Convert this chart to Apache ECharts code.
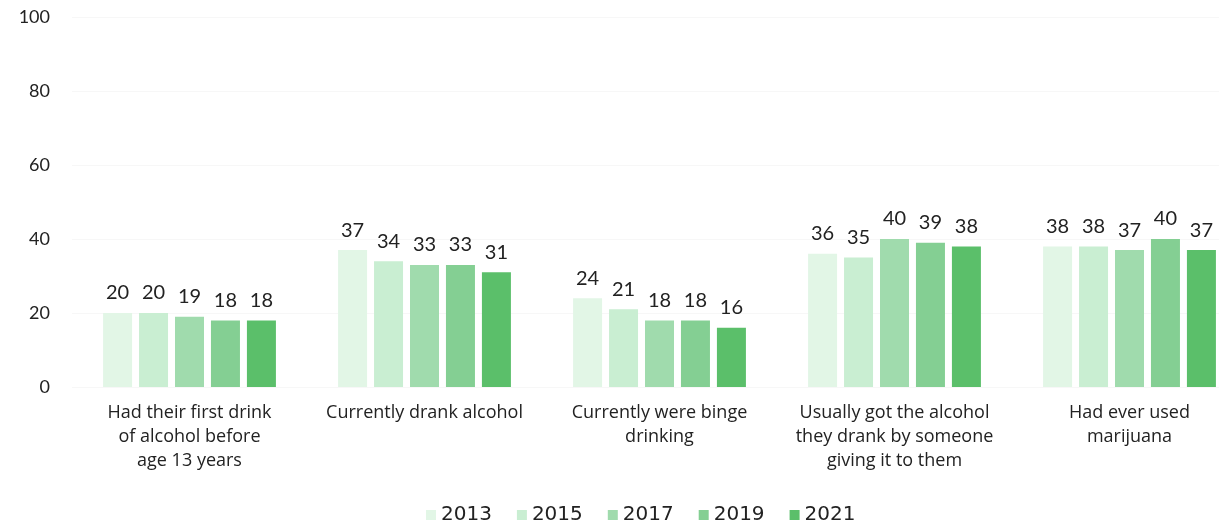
<!DOCTYPE html>
<html>
<head>
<meta charset="utf-8">
<script src="https://cdn.jsdelivr.net/npm/echarts@6/dist/echarts.min.js"></script>
<style>
  html, body { margin: 0; padding: 0; background: #fff; }
  #chart { width: 1219px; height: 525px; }
</style>
</head>
<body>
<div id="chart"></div>
<script>
const categories = [
  'Had their first drink\nof alcohol before\nage 13 years',
  'Currently drank alcohol',
  'Currently were binge\ndrinking',
  'Usually got the alcohol\nthey drank by someone\ngiving it to them',
  'Had ever used\nmarijuana'
];
const years = ['2013', '2015', '2017', '2019', '2021'];
const v2013 = [20, 37, 24, 36, 38];
const v2015 = [20, 34, 21, 35, 38];
const v2017 = [19, 33, 18, 40, 37];
const v2019 = [18, 33, 18, 39, 40];
const v2021 = [18, 31, 16, 38, 37];
const colors = ['#e2f6e6', '#c9eed2', '#a0dbad', '#84cf93', '#5bbf6a'];

const seriesValues = [v2013, v2015, v2017, v2019, v2021];
const font = 'Lato, "Open Sans", sans-serif';

const myChart = echarts.init(document.getElementById('chart'));

let option = {
  backgroundColor: '#fff',
  animation: false,
  color: colors,
  textStyle: { fontFamily: font },
  grid: {
    left: 72,
    width: 1175,
    top: 17,
    height: 370,
    containLabel: false,
    outerBoundsMode: 'none'
  },
  legend: {
    top: 500,
    left: 421,
    itemWidth: 10,
    itemHeight: 10,
    itemGap: 25,
    icon: 'rect',
    textStyle: { color: '#222', fontSize: 20, fontFamily: '"DejaVu Sans", sans-serif' },
    data: years
  },
  xAxis: {
    type: 'category',
    data: categories,
    axisLine: { show: false },
    axisTick: { show: false },
    axisLabel: {
      color: '#222',
      fontSize: 18,
      fontFamily: '"Open Sans", sans-serif',
      lineHeight: 24,
      margin: 14,
      interval: 0
    }
  },
  yAxis: {
    type: 'value',
    min: 0,
    max: 100,
    interval: 20,
    axisLine: { show: false },
    axisTick: { show: false },
    splitLine: { show: true, lineStyle: { color: '#f7f7f7', width: 1 } },
    axisLabel: { color: '#222', fontSize: 18, margin: 22 }
  },
  series: years.map((y, i) => ({
    name: y,
    type: 'bar',
    barWidth: 29,
    barGap: '24%',
    data: seriesValues[i],
    itemStyle: { color: colors[i] },
    label: {
      show: true,
      position: 'top',
      distance: 10,
      color: '#222',
      fontSize: 20,
      fontFamily: font
    }
  }))
};

option && myChart.setOption(option);
</script>
</body>
</html>
